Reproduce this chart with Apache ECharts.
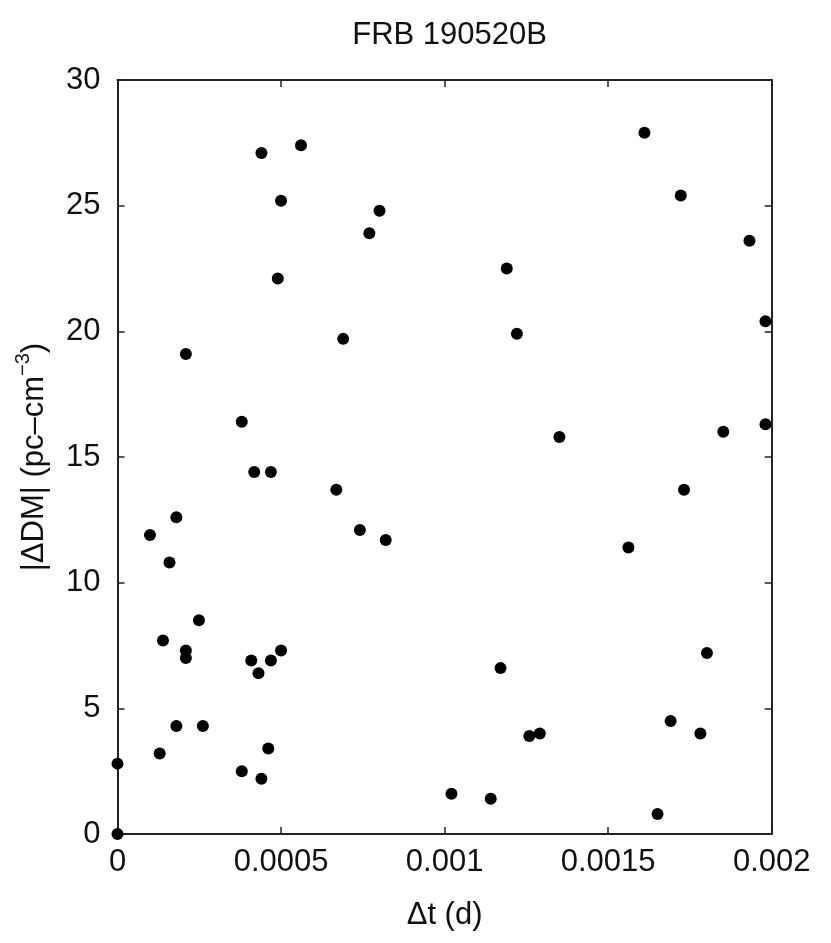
<!DOCTYPE html>
<html>
<head>
<meta charset="utf-8">
<script src="https://cdn.jsdelivr.net/npm/echarts@6/dist/echarts.min.js"></script>
<style>html,body{margin:0;padding:0;background:#fff;}#c{width:831px;height:943px;}</style>
</head>
<body>
<div id="c"></div>
<script>
const titleText = 'FRB 190520B';
const xName = 'Δt (d)';
const yNameParts = ['|ΔDM| (pc–cm', '−3', ')'];
const xTicks = [0, 0.0005, 0.001, 0.0015, 0.002];
const yTicks = [0, 5, 10, 15, 20, 25, 30];

const dtValues = [
  0.000440, 0.000561, 0.000500, 0.000490, 0.000801, 0.000770, 0.001190, 0.001611, 0.001722, 0.001932,
  0.001981, 0.000209, 0.000690, 0.001221, 0.000380, 0.001351, 0.001981, 0.001852, 0.000418, 0.000469,
  0.000669, 0.001732, 0.000180, 0.000741, 0.0000994, 0.000820, 0.001562, 0.000159, 0.000249, 0.000139,
  0.000209, 0.000209, 0.000500, 0.000409, 0.000469, 0.000431, 0.001171, 0.001802, 0.001691, 0.001782,
  0.001259, 0.001291, 0.000180, 0.000261, 0.000461, 0.000129, 0.0, 0.000380, 0.000440, 0.001021,
  0.001141, 0.001651, 0.0
];
const dmValues = [
  27.1, 27.4, 25.2, 22.1, 24.8, 23.9, 22.5, 27.9, 25.4, 23.6,
  20.4, 19.1, 19.7, 19.9, 16.4, 15.8, 16.3, 16.0, 14.4, 14.4,
  13.7, 13.7, 12.6, 12.1, 11.9, 11.7, 11.4, 10.8, 8.5, 7.7,
  7.3, 7.0, 7.3, 6.9, 6.9, 6.4, 6.6, 7.2, 4.5, 4.0,
  3.9, 4.0, 4.3, 4.3, 3.4, 3.2, 2.8, 2.5, 2.2, 1.6,
  1.4, 0.8, 0.0
];

const font = 'Liberation Sans';
const axisColor = '#222';
const textColor = '#111';
const fs = 31;
const xMin = xTicks[0], xMax = xTicks[xTicks.length - 1], xInt = xTicks[1] - xTicks[0];
const yMin = yTicks[0], yMax = yTicks[yTicks.length - 1], yInt = yTicks[1] - yTicks[0];
const fmtX = v => String(parseFloat(v.toFixed(6)));

const chart = echarts.init(document.getElementById('c'), null, {renderer: 'canvas'});
const axisLine = {show: true, onZero: false, lineStyle: {color: axisColor, width: 2}};
const tick = {show: true, inside: true, length: 7, lineStyle: {color: axisColor, width: 1.5}};
chart.setOption({
  animation: false,
  backgroundColor: '#fff',
  title: {
    text: titleText, left: 444.6, textAlign: 'center', top: 15,
    textStyle: {fontFamily: font, fontSize: fs, fontWeight: 'normal', color: textColor}
  },
  grid: {left: 117.5, right: 59.3, top: 80, bottom: 109, containLabel: false},
  xAxis: [{
    type: 'value', position: 'bottom', min: xMin, max: xMax, interval: xInt,
    name: xName, nameLocation: 'middle', nameGap: 66,
    nameTextStyle: {fontFamily: font, fontSize: fs, color: textColor},
    axisLine: axisLine, axisTick: tick,
    axisLabel: {fontFamily: font, fontSize: fs, color: textColor, margin: 13, formatter: fmtX},
    splitLine: {show: false}
  }, {
    type: 'value', position: 'top', min: xMin, max: xMax, interval: xInt,
    axisLine: axisLine, axisTick: tick,
    axisLabel: {show: false}, splitLine: {show: false}
  }],
  yAxis: [{
    type: 'value', position: 'left', min: yMin, max: yMax, interval: yInt,
    name: yNameParts[0] + '{sup|' + yNameParts[1] + '}' + yNameParts[2],
    nameLocation: 'middle', nameGap: 62, nameRotate: 90,
    nameTextStyle: {
      fontFamily: font, fontSize: fs, color: textColor, lineHeight: 42,
      rich: {sup: {fontFamily: font, fontSize: 20, color: textColor, verticalAlign: 'top', lineHeight: 22}}
    },
    axisLine: axisLine, axisTick: tick,
    axisLabel: {fontFamily: font, fontSize: fs, color: textColor, margin: 17},
    splitLine: {show: false}
  }, {
    type: 'value', position: 'right', min: yMin, max: yMax, interval: yInt,
    axisLine: axisLine, axisTick: tick,
    axisLabel: {show: false}, splitLine: {show: false}
  }],
  series: [{
    type: 'scatter', xAxisIndex: 0, yAxisIndex: 0, clip: false,
    symbol: 'circle', symbolSize: 12,
    itemStyle: {color: '#000', opacity: 1},
    data: dtValues.map((x, i) => [x, dmValues[i]])
  }]
});
</script>
</body>
</html>
